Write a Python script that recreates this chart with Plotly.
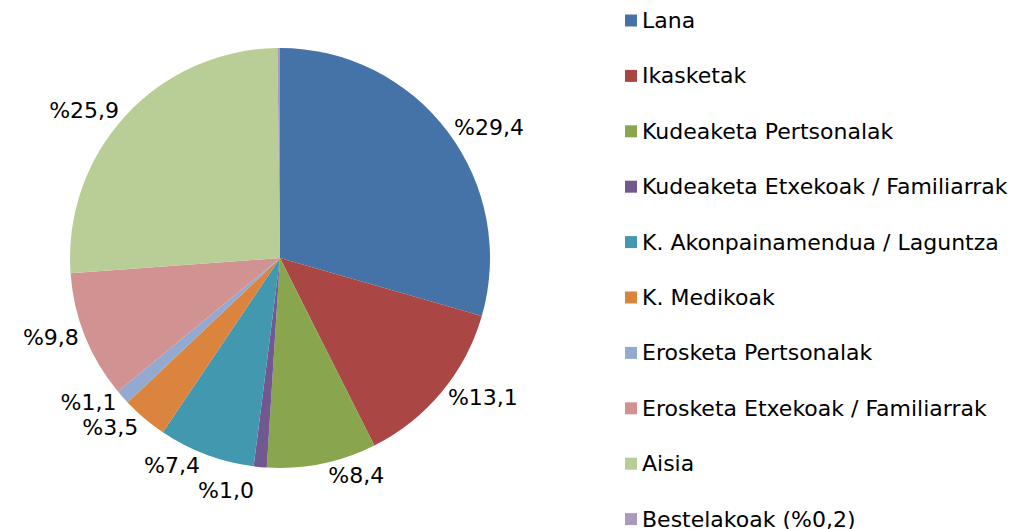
import plotly.graph_objects as go

categories = ["Lana", "Ikasketak", "Kudeaketa Pertsonalak", "Kudeaketa Etxekoak / Familiarrak",
              "K. Akonpainamendua / Laguntza", "K. Medikoak", "Erosketa Pertsonalak",
              "Erosketa Etxekoak / Familiarrak", "Aisia", "Bestelakoak (%0,2)"]
values = [29.4, 13.1, 8.4, 1.0, 7.4, 3.5, 1.1, 9.8, 25.9, 0.2]
show_label = [True, True, True, True, True, True, True, True, True, False]
colors = ["#4572A7", "#AA4643", "#89A54E", "#71588F", "#4198AF", "#DB843D",
          "#93A9CF", "#D19392", "#B9CD96", "#A99BBD"]

W, H = 1013, 529
FONT = "DejaVu Sans"
texts = [("%" + f"{v:.1f}".replace(".", ",")) if s else "" for v, s in zip(values, show_label)]

fig = go.Figure(go.Pie(
    labels=categories, values=values, text=texts, textinfo="text",
    textposition="outside", sort=False, direction="clockwise", rotation=0,
    marker=dict(colors=colors, line=dict(width=0)),
    textfont=dict(family=FONT, size=22, color="#000000"),
    showlegend=False, hoverinfo="label+percent",
    domain=dict(x=[70 / W, 490 / W], y=[1 - 468 / H, 1 - 48 / H]),
))

# legend drawn as annotations + squares
row0, step = 20.5, 55.4
shapes, annotations = [], []
for i, (c, col) in enumerate(zip(categories, colors)):
    yc = row0 + i * step
    shapes.append(dict(type="rect", xref="paper", yref="paper",
                       x0=625 / W, x1=637 / W, y0=1 - (yc + 6) / H, y1=1 - (yc - 6) / H,
                       fillcolor=col, line=dict(width=0)))
    annotations.append(dict(xref="paper", yref="paper", x=640 / W, y=1 - yc / H,
                            xanchor="left", yanchor="middle", text=c, showarrow=False,
                            font=dict(family=FONT, size=22, color="#000000")))

fig.update_layout(width=W, height=H, margin=dict(l=0, r=0, t=0, b=0),
                  paper_bgcolor="white", plot_bgcolor="white",
                  shapes=shapes, annotations=annotations)
fig.write_html(
    "out.html",
    config={"displayModeBar": False},
    post_script=(
        "document.body.style.margin='0';document.body.style.overflow='hidden';"
        "var s=document.createElement('style');s.textContent='path.textline{display:none}';"
        "document.head.appendChild(s);"
    ),
)
